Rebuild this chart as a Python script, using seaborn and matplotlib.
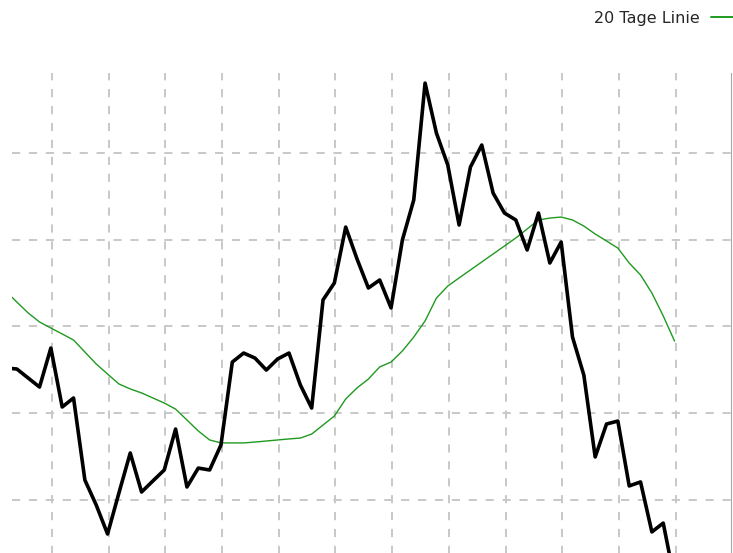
import numpy as np
import pandas as pd
import seaborn as sns
import matplotlib
matplotlib.use("Agg")
import matplotlib.pyplot as plt

# ---- data ----
tage = list(range(60))
kurs = [37.61, 37.55, 37.03, 36.51, 38.76, 35.36, 35.88, 31.15, 29.71, 28.04,
        30.40, 32.71, 30.46, 31.10, 31.73, 34.09, 30.75, 31.84, 31.73, 33.17,
        37.95, 38.47, 38.18, 37.49, 38.13, 38.47, 36.63, 35.30, 41.53, 42.51,
        45.73, 43.89, 42.22, 42.68, 41.07, 44.99, 47.29, 54.03, 51.15, 49.31,
        45.85, 49.19, 50.46, 47.69, 46.54, 46.14, 44.41, 46.54, 43.66, 44.87,
        39.39, 37.20, 32.48, 34.38, 34.55, 30.81, 31.04, 28.16, 28.67, 25.39]
linie20 = [42.05, 41.41, 40.78, 40.26, 39.91, 39.57, 39.22, 38.53, 37.84, 37.26,
           36.69, 36.40, 36.17, 35.88, 35.59, 35.24, 34.61, 33.98, 33.46, 33.29,
           33.29, 33.29, 33.34, 33.40, 33.46, 33.52, 33.57, 33.80, 34.32, 34.84,
           35.82, 36.46, 36.97, 37.67, 37.95, 38.59, 39.39, 40.32, 41.64, 42.33,
           42.80, 43.26, 43.72, 44.18, 44.64, 45.10, 45.62, 46.14, 46.25, 46.31,
           46.14, 45.79, 45.33, 44.93, 44.52, 43.66, 42.97, 41.93, 40.61, 39.16]
legend_label = "20 Tage Linie"
y_gridlines = [25, 30, 35, 40, 45, 50]

df = pd.DataFrame({"tag": tage, "kurs": kurs, "linie": linie20})

sns.set_style("white")
plt.rcParams["font.family"] = ["DejaVu Sans"]

W, H = 733, 553
fig = plt.figure(figsize=(W / 100, H / 100), dpi=100)
fig.patch.set_facecolor("white")

left_px, right_px, top_px, bottom_px = 12, 731, 73, 600
ax = fig.add_axes([left_px / W, (H - bottom_px) / H,
                   (right_px - left_px) / W, (bottom_px - top_px) / H])
ax.set_facecolor("white")

sns.lineplot(data=df, x="tag", y="linie", ax=ax, color="#1f9a1f",
             linewidth=1.0, label=legend_label, zorder=3)
sns.lineplot(data=df, x="tag", y="kurs", ax=ax, color="black",
             linewidth=2.6, legend=False, zorder=4)

# x mapping: index 0 at ~5.5 px, 11.34 px per step
x0, step = 5.5, 11.34
ax.set_xlim((left_px - x0) / step, (right_px - x0) / step)
ax.set_ylim(24.236, 54.611)

ax.set_xticks([4.1 + 5 * j for j in range(12)])
ax.set_yticks(y_gridlines)
ax.set_xticklabels([])
ax.set_yticklabels([])
ax.tick_params(length=0)
ax.set_xlabel("")
ax.set_ylabel("")

ax.set_axisbelow(True)
ax.grid(True, color="#c8c8c8", linewidth=1.4, linestyle=(0, (4.2, 4.5)))

for s in ["left", "top", "bottom"]:
    ax.spines[s].set_visible(False)
ax.spines["right"].set_color("#a8a8a8")
ax.spines["right"].set_linewidth(0.8)

leg = ax.legend(loc="upper right", bbox_to_anchor=(736 / W, 1 - 11 / H),
                bbox_transform=fig.transFigure, markerfirst=False,
                frameon=False, fontsize=11.5, handlelength=1.55,
                handletextpad=0.75, borderaxespad=0, borderpad=0)
for line in leg.get_lines():
    line.set_linewidth(1.4)

fig.savefig("out.png", dpi=100, facecolor="white")
